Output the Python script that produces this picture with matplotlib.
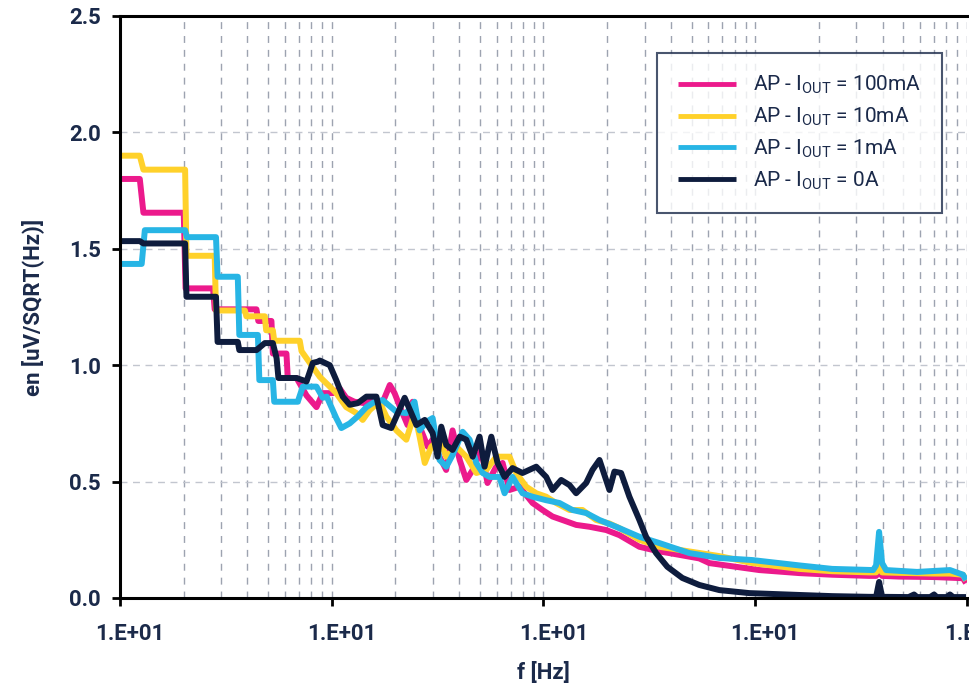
import matplotlib
matplotlib.use("Agg")
import matplotlib.pyplot as plt
import matplotlib.transforms as mtransforms
from matplotlib.ticker import FixedLocator, FixedFormatter, LogLocator, NullFormatter

# ---------------- data ----------------
labels = [r"AP - I$_{\mathregular{OUT}}$ = 100mA",
          r"AP - I$_{\mathregular{OUT}}$ = 10mA",
          r"AP - I$_{\mathregular{OUT}}$ = 1mA",
          r"AP - I$_{\mathregular{OUT}}$ = 0A"]
colors = ["#EC1A8C", "#FFD12A", "#27B5E5", "#0E1C3D"]

f_100mA = [10, 12.4, 12.9, 20.0, 20.4, 27.5, 28.0, 44.1, 45.0, 51.9, 52.7, 61.1, 62.0, 68.2,
           76, 84.7, 90.7, 101, 109, 117, 128, 143, 156, 172, 188, 198, 213, 228, 241, 260,
           284, 299, 323, 347, 372, 402, 432, 463, 508, 544, 598, 641, 691, 770, 888, 989,
           1103, 1229, 1426, 1648, 1976, 2283, 2837, 3526, 3930, 5442, 6067, 10445, 16130,
           23080, 34490, 37220, 38440, 39720, 47780, 69880, 95750, 98920]
v_100mA = [1.80, 1.80, 1.655, 1.655, 1.33, 1.33, 1.24, 1.24, 1.19, 1.19, 1.05, 1.05, 0.945, 0.945,
           0.87, 0.82, 0.88, 0.88, 0.90, 0.86, 0.843, 0.837, 0.85, 0.83, 0.915, 0.88, 0.807, 0.743,
           0.843, 0.736, 0.65, 0.68, 0.607, 0.55, 0.72, 0.593, 0.507, 0.55, 0.636, 0.494, 0.564,
           0.58, 0.464, 0.478, 0.408, 0.378, 0.35, 0.335, 0.314, 0.306, 0.292, 0.27, 0.22, 0.20,
           0.193, 0.17, 0.15, 0.12, 0.107, 0.10, 0.095, 0.095, 0.115, 0.095, 0.092, 0.09, 0.085, 0.064]

f_10mA = [10, 12.4, 12.9, 20.3, 20.6, 28.0, 28.4, 38.9, 39.5, 48.3, 49.0, 52.7, 53.5, 70.6,
          72, 78.8, 87.8, 97.9, 105, 117, 131, 140, 151, 168, 181, 202, 225, 246, 260, 275,
          295, 323, 347, 388, 432, 482, 537, 598, 691, 743, 829, 924, 1030, 1148, 1327, 1528,
          1773, 2048, 2283, 2837, 3526, 4884, 6765, 9679, 16130, 23080, 34490, 37220, 38440,
          39720, 47780, 69880, 83120, 95750, 98920]
v_10mA = [1.90, 1.90, 1.84, 1.84, 1.47, 1.47, 1.235, 1.235, 1.21, 1.21, 1.15, 1.15, 1.105, 1.105,
          1.06, 1.01, 0.95, 0.908, 0.88, 0.82, 0.794, 0.765, 0.807, 0.843, 0.78, 0.72, 0.68, 0.794,
          0.693, 0.58, 0.65, 0.68, 0.607, 0.65, 0.607, 0.537, 0.55, 0.607, 0.607, 0.537, 0.478,
          0.45, 0.435, 0.408, 0.378, 0.378, 0.335, 0.32, 0.30, 0.25, 0.22, 0.20, 0.18, 0.15,
          0.125, 0.115, 0.11, 0.11, 0.135, 0.11, 0.108, 0.105, 0.105, 0.10, 0.075]

f_1mA = [10, 12.66, 13.1, 20.3, 20.7, 28.4, 28.9, 36.0, 36.6, 44.8, 45.5, 52.7, 53.5, 69.1,
         73, 84.7, 90.7, 94.7, 105, 111, 121.6, 132.6, 145.8, 159.5, 174, 202, 225, 246, 260,
         280, 299.5, 323, 347.5, 372, 415, 448, 481.5, 516, 556, 620, 655, 714, 796, 888, 1030,
         1190, 1370, 1590, 1838, 2203, 2837, 3526, 4884, 6765, 9679, 16130, 23080, 36030, 37220,
         38440, 39720, 41490, 58100, 83120, 95750, 98920]
v_1mA = [1.435, 1.435, 1.58, 1.58, 1.55, 1.55, 1.38, 1.38, 1.13, 1.13, 0.936, 0.936, 0.843, 0.843,
         0.908, 0.908, 0.86, 0.865, 0.773, 0.73, 0.75, 0.78, 0.82, 0.843, 0.85, 0.80, 0.794, 0.843,
         0.72, 0.757, 0.773, 0.593, 0.564, 0.614, 0.714, 0.68, 0.58, 0.537, 0.52, 0.52, 0.45,
         0.52, 0.45, 0.435, 0.42, 0.408, 0.378, 0.365, 0.335, 0.306, 0.263, 0.236, 0.193, 0.172,
         0.163, 0.14, 0.125, 0.12, 0.14, 0.284, 0.15, 0.12, 0.112, 0.12, 0.10, 0.077]

f_0A = [10, 12.4, 12.9, 20.3, 20.6, 28.4, 28.9, 36.0, 36.6, 44.1, 48.3, 52.7, 54.9, 56.0, 68.2,
        76, 81.4, 85.9, 87.8, 97.9, 105, 112.7, 121.6, 132.6, 145.8, 162.5, 174, 191, 202, 221,
        237.6, 251, 275, 299.5, 316, 329, 347.5, 372, 402, 432, 463, 499, 527, 567, 607, 655,
        714, 796, 924, 1030, 1103, 1212, 1327, 1426, 1590, 1703, 1838, 2048, 2162, 2325, 2545,
        2837, 3051, 3401, 3845, 4527, 5442, 6765, 9370, 16130, 23080, 34490, 37220, 38440,
        39720, 53000, 56230, 58100, 67000, 69880, 72000, 80000, 83120, 86000, 98920]
v_0A = [1.533, 1.533, 1.523, 1.523, 1.294, 1.294, 1.10, 1.10, 1.065, 1.065, 1.095, 1.095, 1.03,
        0.945, 0.945, 0.93, 1.01, 1.015, 1.02, 1.0, 0.936, 0.865, 0.83, 0.837, 0.865, 0.865, 0.743,
        0.73, 0.78, 0.86, 0.794, 0.743, 0.765, 0.709, 0.607, 0.736, 0.657, 0.636, 0.693, 0.68,
        0.607, 0.693, 0.564, 0.693, 0.58, 0.52, 0.558, 0.537, 0.564, 0.52, 0.464, 0.507, 0.485,
        0.45, 0.494, 0.55, 0.593, 0.464, 0.543, 0.537, 0.435, 0.335, 0.263, 0.193, 0.134, 0.086,
        0.056, 0.034, 0.021, 0.013, 0.008, 0.005, 0.005, 0.069, 0.005, 0.004, 0.015, 0.004, 0.004,
        0.015, 0.004, 0.004, 0.015, 0.004, 0.004]

x_ticks = [10, 100, 1000, 10000, 100000]
x_tick_labels = ["1.E+01", "1.E+01", "1.E+01", "1.E+01", "1.E-01"]
y_ticks = [0.0, 0.5, 1.0, 1.5, 2.0, 2.5]

# ---------------- style ----------------
NAVY = "#1B2A4A"
plt.rcParams["font.family"] = ["Roboto", "DejaVu Sans"]
plt.rcParams["mathtext.fontset"] = "custom"
plt.rcParams["mathtext.rm"] = "Roboto"

fig = plt.figure(figsize=(9.7, 6.88), dpi=100)
W, H = 970, 688
ax = fig.add_axes([120 / W, 1 - 598 / H, (967 - 120) / W, (598 - 16) / H])

series = [(f_100mA, v_100mA), (f_10mA, v_10mA), (f_1mA, v_1mA), (f_0A, v_0A)]
for (fx, vy), c, lab in zip(series, colors, labels):
    ax.plot(fx, vy, color=c, lw=4.3, solid_joinstyle="round", solid_capstyle="butt", label=lab)

ax.set_xscale("log")
ax.set_xlim(10, 100000)
ax.set_ylim(0, 2.5)

ax.xaxis.set_major_locator(FixedLocator(x_ticks))
ax.xaxis.set_major_formatter(FixedFormatter(x_tick_labels))
ax.xaxis.set_minor_locator(LogLocator(base=10, subs=range(2, 10)))
ax.xaxis.set_minor_formatter(NullFormatter())
ax.set_yticks(y_ticks)
ax.set_yticklabels([f"{v:.1f}" for v in y_ticks])

ax.grid(True, which="both", axis="x", color="#9DA3B0", linestyle=(0, (5, 5)), lw=1.0)
ax.grid(True, which="major", axis="y", color="#C2C6CF", linestyle=(0, (5, 4)), lw=1.0)
ax.set_axisbelow(True)

for s in ["left", "bottom", "top"]:
    ax.spines[s].set_linewidth(2.2)
    ax.spines[s].set_color("black")
ax.spines["right"].set_visible(False)

ax.tick_params(axis="both", which="major", direction="out", length=6, width=2, color="black",
               labelsize=16, labelcolor=NAVY)
ax.tick_params(axis="x", which="minor", length=0)
ax.tick_params(axis="x", pad=12)
ax.tick_params(axis="y", pad=8)
for t in ax.get_xticklabels() + ax.get_yticklabels():
    t.set_fontweight("bold")
offset = mtransforms.ScaledTranslation(10 / 100, 0, fig.dpi_scale_trans)
for t in ax.get_xticklabels():
    t.set_transform(t.get_transform() + offset)

ax.set_xlabel("f [Hz]", fontsize=16, fontweight="bold", color=NAVY, labelpad=12)
ax.set_ylabel("en [uV/SQRT(Hz)]", fontsize=16, fontweight="bold", color=NAVY, labelpad=18)

leg = ax.legend(loc="upper left", bbox_to_anchor=((657 - 120) / 847, (598 - 53) / 582),
                frameon=True, fancybox=False, fontsize=15, handlelength=2.8, handletextpad=0.8,
                borderpad=1.0, labelspacing=0.45, borderaxespad=0)
leg.get_frame().set_edgecolor(NAVY)
leg.get_frame().set_linewidth(1.5)
for line in leg.get_lines():
    line.set_linewidth(3.5)
for t in leg.get_texts():
    t.set_color(NAVY)

fig.savefig("out.png", dpi=100)
